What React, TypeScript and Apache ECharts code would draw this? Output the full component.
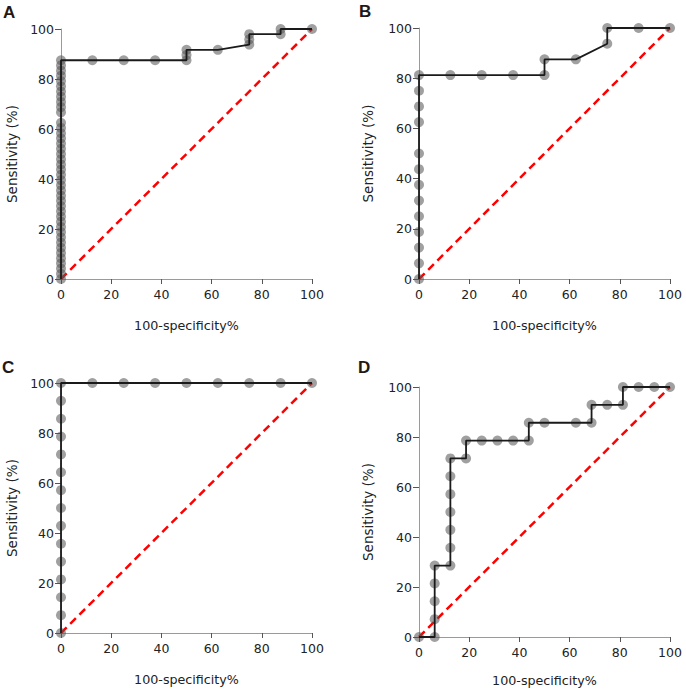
import React, { useEffect, useRef } from "react";
import * as echarts from "echarts";

// ---- Data (100-specificity %, sensitivity %) ----
const panelLabels = ["A", "B", "C", "D"];

const aX = [
  0, 0, 0, 0, 0, 0, 0, 0, 0, 0, 0, 0, 0, 0, 0, 0, 0, 0, 0, 0, 0, 0, 0, 0, 0, 0, 0, 0, 0, 0, 0, 0, 0, 0, 0, 0, 0, 0, 0, 0, 0, 0,
  12.5, 25, 37.5, 50, 50, 50, 62.5, 75, 75, 75, 87.5, 87.5, 100,
];
const aY = [
  0, 2.08, 4.17, 6.25, 8.33, 10.42, 12.5, 14.58, 16.67, 18.75, 20.83, 22.92, 25, 27.08, 29.17, 31.25, 33.33, 35.42, 37.5,
  39.58, 41.67, 43.75, 45.83, 47.92, 50, 52.08, 54.17, 56.25, 58.33, 60.42, 62.5, 66.67, 68.75, 70.83, 72.92, 75, 77.08,
  79.17, 81.25, 83.33, 85.42, 87.5,
  87.5, 87.5, 87.5, 87.5, 89.58, 91.67, 91.67, 93.75, 95.83, 97.92, 97.92, 100, 100,
];

const bX = [0, 0, 0, 0, 0, 0, 0, 0, 0, 0, 0, 0, 0, 12.5, 25, 37.5, 50, 50, 62.5, 75, 75, 87.5, 100];
const bY = [
  0, 6.25, 12.5, 18.75, 25, 31.25, 37.5, 43.75, 50, 62.5, 68.75, 75, 81.25, 81.25, 81.25, 81.25, 81.25, 87.5, 87.5, 93.75,
  100, 100, 100,
];

const cX = [0, 0, 0, 0, 0, 0, 0, 0, 0, 0, 0, 0, 0, 0, 0, 12.5, 25, 37.5, 50, 62.5, 75, 87.5, 100];
const cY = [
  0, 7.14, 14.29, 21.43, 28.57, 35.71, 42.86, 50, 57.14, 64.29, 71.43, 78.57, 85.71, 92.86, 100, 100, 100, 100, 100, 100,
  100, 100, 100,
];

const dX = [
  0, 6.25, 6.25, 6.25, 6.25, 6.25, 12.5, 12.5, 12.5, 12.5, 12.5, 12.5, 12.5, 18.75, 18.75, 25, 31.25, 37.5, 43.75, 43.75,
  50, 62.5, 68.75, 68.75, 75, 81.25, 81.25, 87.5, 93.75, 100,
];
const dY = [
  0, 0, 7.14, 14.29, 21.43, 28.57, 28.57, 35.71, 42.86, 50, 57.14, 64.29, 71.43, 71.43, 78.57, 78.57, 78.57, 78.57, 78.57,
  85.71, 85.71, 85.71, 85.71, 92.86, 92.86, 92.86, 100, 100, 100, 100,
];

const diagX = [0, 100];
const diagY = [0, 100];

const panelsX = [aX, bX, cX, dX];
const panelsY = [aY, bY, cY, dY];

// ---- Layout ----
const grids = [
  { left: 61, top: 29, width: 251, height: 250 },
  { left: 419, top: 28, width: 251, height: 251 },
  { left: 61, top: 383, width: 251, height: 250 },
  { left: 419, top: 387, width: 251, height: 250 },
];
const labelPos = [
  { x: 3, y: 4 },
  { x: 359, y: 3 },
  { x: 2, y: 359 },
  { x: 358, y: 359 },
];

const FONT = "DejaVu Sans";

export default function App() {
  const ref = useRef<HTMLDivElement>(null);
  useEffect(() => {
    if (!ref.current) return;
    const chart = echarts.init(ref.current, undefined, { renderer: "svg" });
    const pairs = (xs: number[], ys: number[]) => xs.map((x, i) => [x, ys[i]]);

    const xAxis = grids.map((_, i) => ({
      type: "value",
      gridIndex: i,
      min: 0,
      max: 100,
      interval: 20,
      name: "100-specificity%",
      nameLocation: "middle",
      nameGap: i === 3 ? 37 : 40,
      nameTextStyle: { fontFamily: FONT, fontSize: 12.7, color: "#222" },
      axisLine: { show: true, lineStyle: { color: "#9a9a9a", width: 1 } },
      axisTick: { show: true, length: 5, lineStyle: { color: "#555" } },
      axisLabel: { fontFamily: FONT, fontSize: 12.5, color: "#222", margin: 9 },
      splitLine: { show: false },
    }));
    const yAxis = grids.map((_, i) => ({
      type: "value",
      gridIndex: i,
      min: 0,
      max: 100,
      interval: 20,
      name: "Sensitivity (%)",
      nameLocation: "middle",
      nameGap: i % 2 === 0 ? 42 : 44,
      nameTextStyle: { fontFamily: FONT, fontSize: 13.5, color: "#222" },
      axisLine: { show: true, lineStyle: { color: "#9a9a9a", width: 1 } },
      axisTick: { show: true, length: 6, lineStyle: { color: "#555" } },
      axisLabel: { fontFamily: FONT, fontSize: 12.5, color: "#222", margin: 7 },
      splitLine: { show: false },
    }));

    const series: any[] = [];
    grids.forEach((_, i) => {
      series.push({
        type: "line",
        xAxisIndex: i,
        yAxisIndex: i,
        data: pairs(diagX, diagY),
        symbol: "none",
        clip: false,
        z: 1,
        lineStyle: { color: "#ff0000", width: 2.5, type: [8, 5] },
      });
      series.push({
        type: "scatter",
        xAxisIndex: i,
        yAxisIndex: i,
        data: pairs(panelsX[i], panelsY[i]),
        symbol: "circle",
        symbolSize: 10,
        clip: false,
        z: 2,
        itemStyle: { color: "rgba(85,85,85,0.7)" },
      });
      series.push({
        type: "line",
        xAxisIndex: i,
        yAxisIndex: i,
        data: pairs(panelsX[i], panelsY[i]),
        symbol: "none",
        clip: false,
        z: 3,
        lineStyle: { color: "#1a1a1a", width: 1.8 },
      });
    });

    chart.setOption({
      animation: false,
      backgroundColor: "#ffffff",
      grid: grids.map((g) => ({ ...g, containLabel: false })),
      xAxis,
      yAxis,
      series,
      graphic: panelLabels.map((t, i) => ({
        type: "text",
        left: labelPos[i].x,
        top: labelPos[i].y,
        style: {
          text: t,
          fontFamily: "Liberation Sans",
          fontWeight: "bold",
          fontSize: 17,
          fill: "#231815",
        },
      })),
    });
    return () => chart.dispose();
  }, []);
  return (
    <div
      ref={ref}
      style={{ position: "absolute", left: 0, top: 0, width: 686, height: 695 }}
    />
  );
}
